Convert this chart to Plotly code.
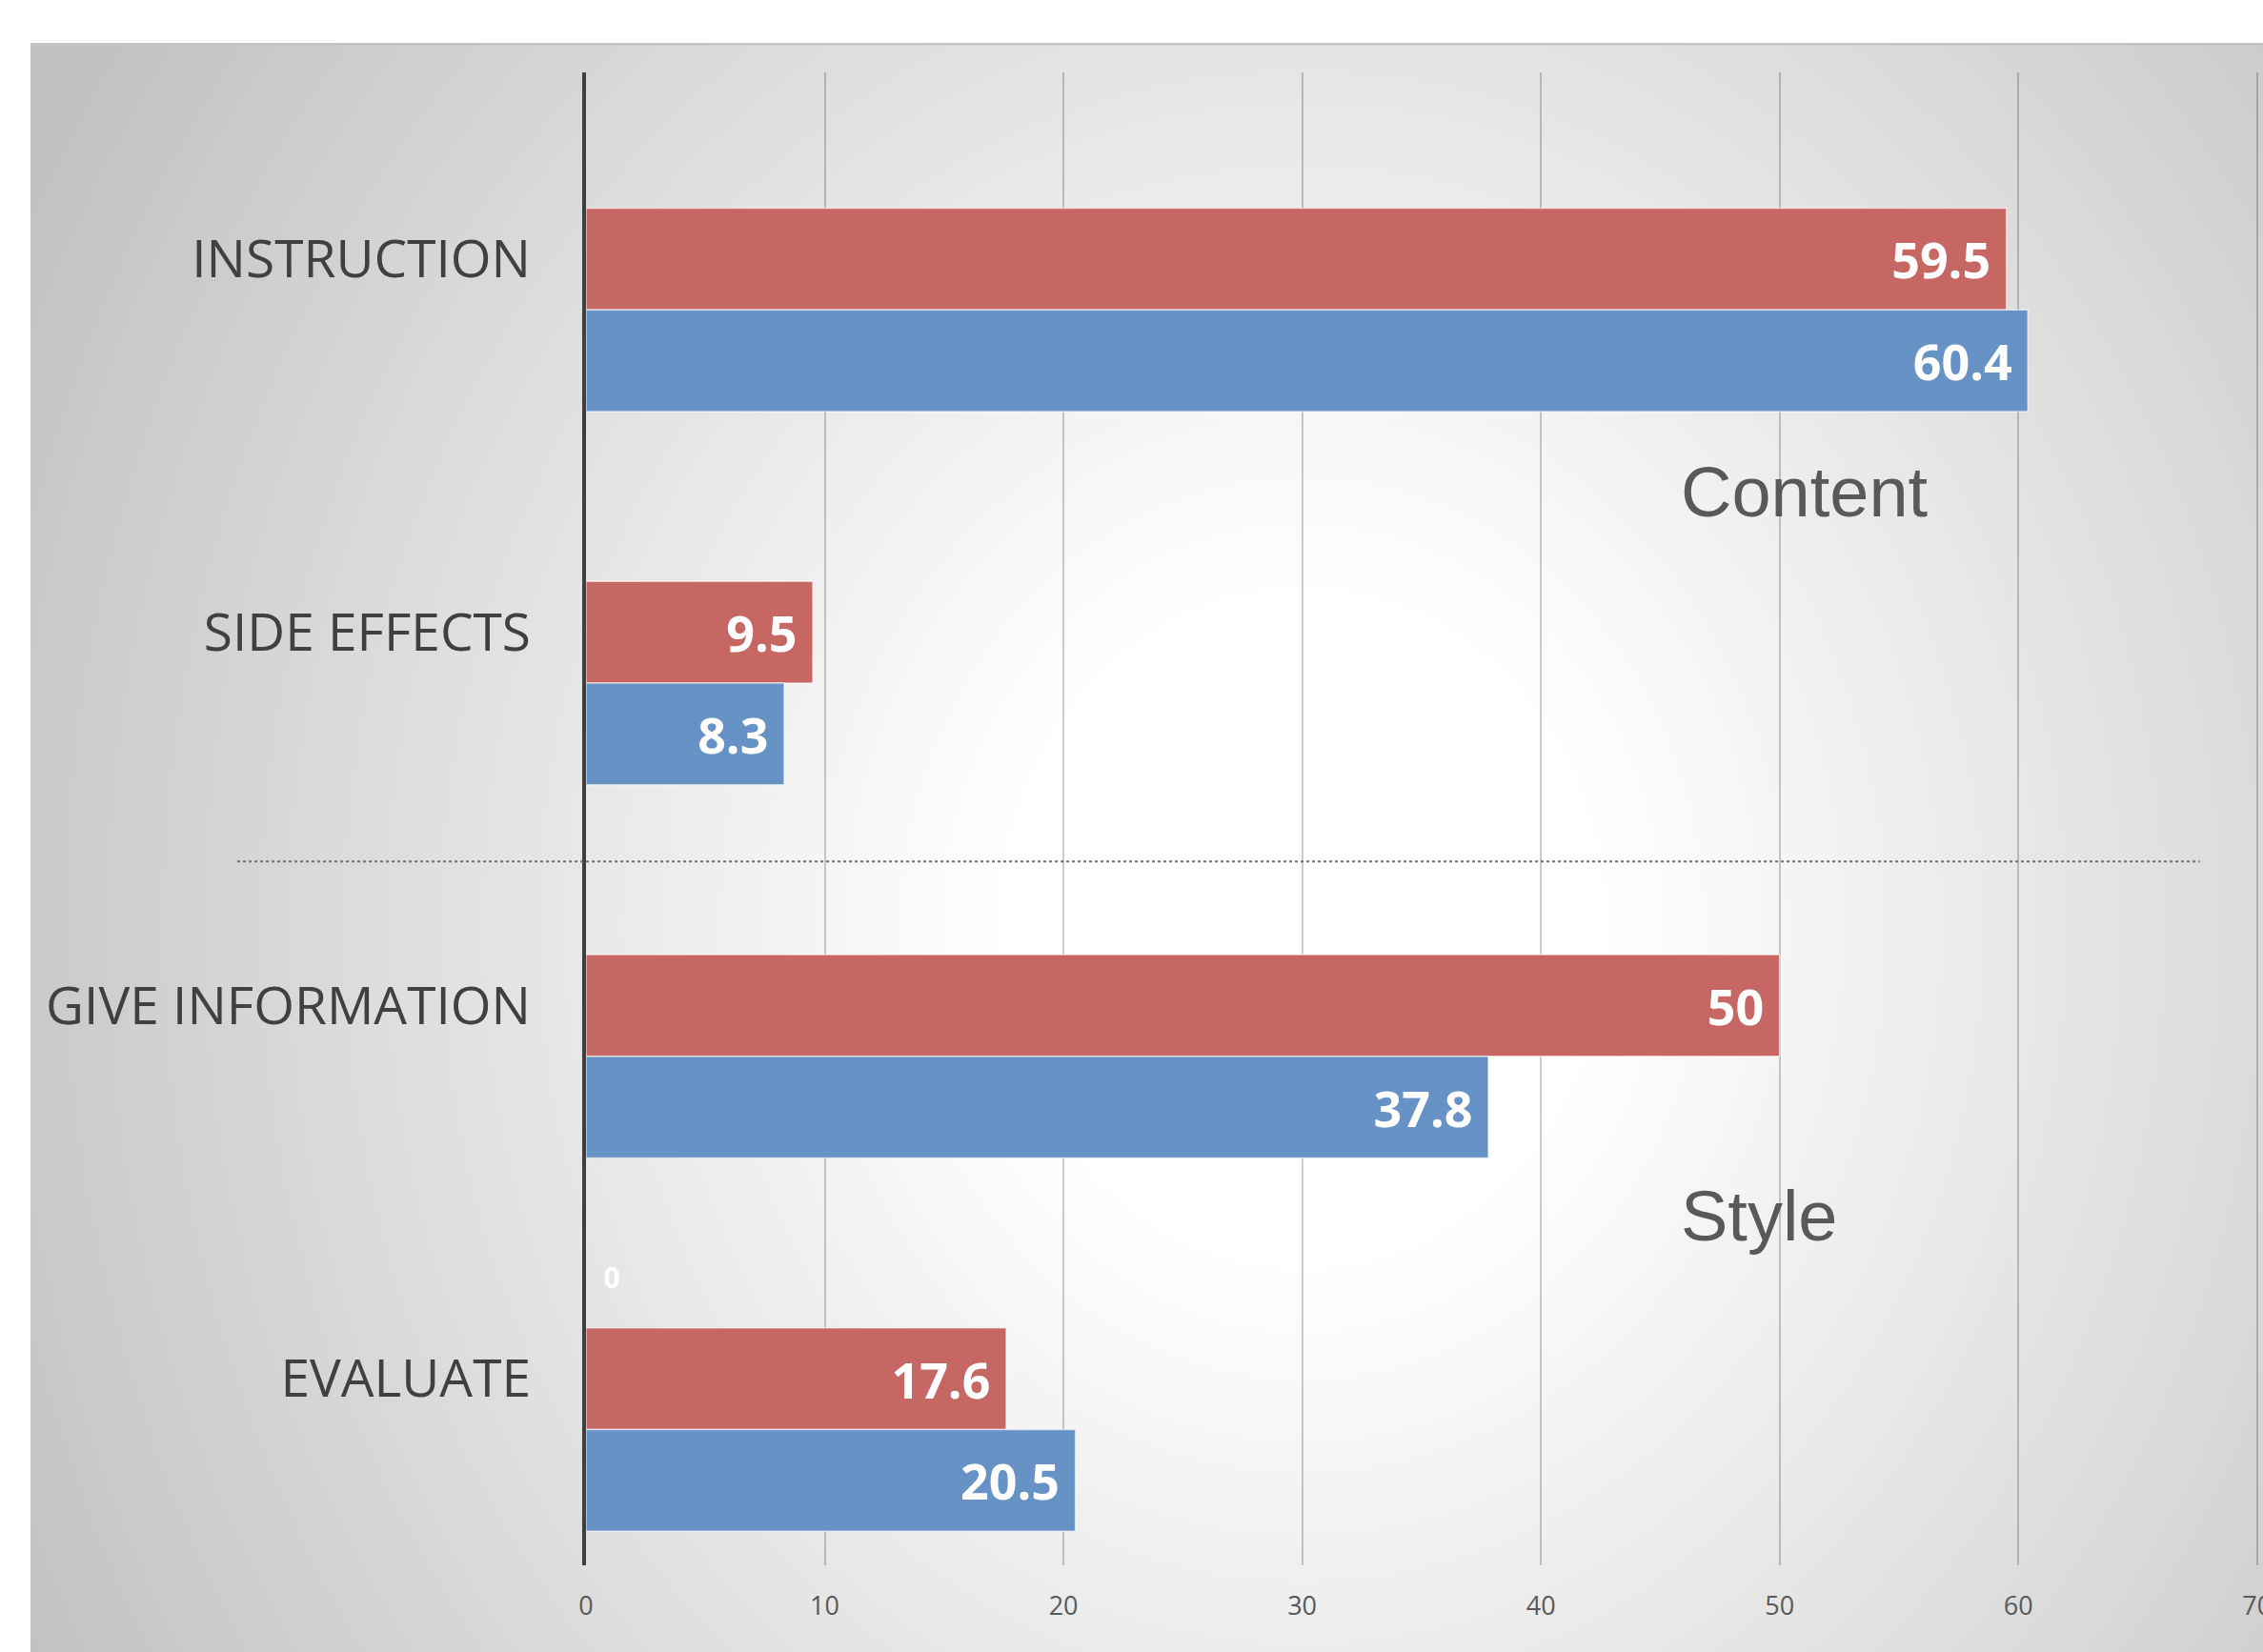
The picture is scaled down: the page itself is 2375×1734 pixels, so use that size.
import base64
import plotly.graph_objects as go

# ---- data ----
categories = ["INSTRUCTION", "SIDE EFFECTS", "GIVE INFORMATION", "EVALUATE"]
series_hidden = [None, None, None, 0]
series_red = [59.5, 9.5, 50, 17.6]
series_blue = [60.4, 8.3, 37.8, 20.5]
x_ticks = [0, 10, 20, 30, 40, 50, 60, 70]
group_labels = ["Content", "Style"]

W, H = 2375, 1734

# ---- radial gradient background panel (SVG data URI) ----
svg = (
    '<svg xmlns="http://www.w3.org/2000/svg" width="2343" height="1689" '
    'viewBox="0 0 2343 1689" preserveAspectRatio="none">'
    '<defs><radialGradient id="g" gradientUnits="userSpaceOnUse" cx="0" cy="0" r="1" '
    'gradientTransform="translate(1335 929) scale(1534 1720)">'
    '<stop offset="0" stop-color="#ffffff"/>'
    '<stop offset="0.2" stop-color="#ffffff"/>'
    '<stop offset="1" stop-color="#c0c0c0"/>'
    '</radialGradient></defs>'
    '<rect x="0" y="0" width="2343" height="1689" fill="url(#g)"/>'
    '<line x1="0" y1="1" x2="2343" y2="1" stroke="#c4c4c4" stroke-width="3"/>'
    '</svg>'
)
svg_uri = "data:image/svg+xml;base64," + base64.b64encode(svg.encode()).decode()

X_MAX = 70.05
PLOT_W = 1755

fig = go.Figure()

fig.add_trace(go.Bar(
    y=categories, x=series_hidden, orientation="h", name="Hidden",
    marker=dict(color="rgba(0,0,0,0)"),
    texttemplate="\u00a0\u00a0%{x}", textposition="outside",
    textfont=dict(family="Open Sans", size=30, color="white", weight="bold"),
    cliponaxis=False, showlegend=False, hoverinfo="skip",
))
fig.add_trace(go.Bar(
    y=categories, x=series_red, orientation="h", name="Series 1",
    marker=dict(color="#C76763", line=dict(color="rgba(255,255,255,0.6)", width=1.5)),
    texttemplate="%{x}\u00a0", textposition="inside", insidetextanchor="end",
    textfont=dict(family="Open Sans", size=52, color="white", weight="bold"),
    constraintext="none", showlegend=False,
))
fig.add_trace(go.Bar(
    y=categories, x=series_blue, orientation="h", name="Series 2",
    marker=dict(color="#6792C5", line=dict(color="rgba(255,255,255,0.6)", width=1.5)),
    texttemplate="%{x}\u00a0", textposition="inside", insidetextanchor="end",
    textfont=dict(family="Open Sans", size=52, color="white", weight="bold"),
    constraintext="none", showlegend=False,
))

# separator between the two groups
fig.add_shape(type="line", xref="paper", yref="y",
              x0=-0.2085, x1=0.965, y0=1.614, y1=1.614,
              line=dict(color="#6e6e6e", width=2, dash="dot"))

fig.add_annotation(x=45.8, y=0.625, xref="x", yref="y", text=group_labels[0],
                   showarrow=False, xanchor="left", yanchor="middle",
                   font=dict(family="Liberation Sans", size=74, color="#595959"))
fig.add_annotation(x=45.8, y=2.565, xref="x", yref="y", text=group_labels[1],
                   showarrow=False, xanchor="left", yanchor="middle",
                   font=dict(family="Liberation Sans", size=74, color="#595959"))

fig.update_layout(
    width=W, height=H,
    margin=dict(l=615, r=W - 615 - PLOT_W, t=76, b=91, pad=0, autoexpand=False),
    paper_bgcolor="white", plot_bgcolor="rgba(0,0,0,0)",
    barmode="group", bargap=0.183, bargroupgap=0,
    images=[dict(source=svg_uri, xref="paper", yref="paper",
                 x=(32 - 615) / PLOT_W, y=(1734 - 45 - 91) / 1567,
                 sizex=2343 / PLOT_W, sizey=1689 / 1567,
                 xanchor="left", yanchor="top", sizing="stretch", layer="below")],
    xaxis=dict(range=[0, X_MAX], tickvals=x_ticks, showgrid=True,
               gridcolor="rgba(0,0,0,0.2)", gridwidth=2, zeroline=False,
               showline=False, ticks="", ticklabelstandoff=24,
               ticklabeloverflow="allow", automargin=False,
               tickfont=dict(family="Open Sans", size=27, color="#595959")),
    yaxis=dict(type="category", categoryarray=categories, range=[3.5, -0.5],
               showgrid=False, zeroline=False, showline=True, linecolor="#3f3f3f",
               linewidth=4, ticks="", ticklabelstandoff=43, automargin=False,
               tickfont=dict(family="Open Sans", size=55, color="#404040")),
    font=dict(family="Open Sans"),
)

fig.write_html(
    "out.html",
    config={"displayModeBar": False},
    post_script="document.documentElement.style.overflow='hidden';"
                "document.body.style.margin='0';document.body.style.overflow='hidden';",
)
